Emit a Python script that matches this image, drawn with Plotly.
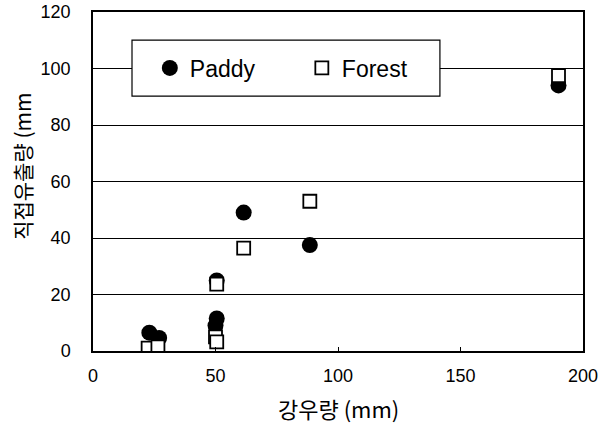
import plotly.graph_objects as go

paddy_x = [23, 27, 50.5, 50.5, 50, 61.5, 88.5, 190]
paddy_y = [6.5, 4.6, 25, 11.5, 9, 49, 37.5, 94]
forest_x = [22.5, 26.5, 50.5, 50, 50.5, 61.5, 88.5, 190]
forest_y = [1, 1.5, 23.7, 5, 3.2, 36.4, 53, 97.5]

x_ticks = [0, 50, 100, 150, 200]
y_ticks = [0, 20, 40, 60, 80, 100, 120]

fig = go.Figure()
fig.add_trace(go.Scatter(x=paddy_x, y=paddy_y, mode="markers", name="Paddy",
                         marker=dict(symbol="circle", size=16, color="black")))
fig.add_trace(go.Scatter(x=forest_x, y=forest_y, mode="markers", name="Forest",
                         marker=dict(symbol="square", size=13, color="white",
                                     line=dict(color="black", width=1.8))))

fig.update_layout(
    width=601, height=424,
    margin=dict(l=93, r=18, t=12, b=73),
    plot_bgcolor="white", paper_bgcolor="white",
    font=dict(family="Liberation Sans, Arial, sans-serif", color="black", size=18),
    xaxis=dict(range=[0, 200], tickvals=x_ticks, showgrid=False, zeroline=False,
               showline=True, linecolor="black", linewidth=1.5, mirror=True,
               ticks="inside", ticklen=4, tickcolor="black", automargin=False,
               tickfont=dict(size=18), ticklabelstandoff=8),
    yaxis=dict(range=[0, 120], tickvals=y_ticks, showgrid=True, gridcolor="black",
               gridwidth=1.2, zeroline=False, automargin=False,
               showline=True, linecolor="black", linewidth=1.5, mirror=True,
               ticks="", tickfont=dict(size=18), ticklabelstandoff=17),
    legend=dict(orientation="h", x=0.116, y=0.835, xanchor="left", yanchor="middle",
                borderwidth=0, bgcolor="rgba(0,0,0,0)",
                font=dict(size=23, family="Liberation Sans, Arial, sans-serif"),
                entrywidth=107, entrywidthmode="pixels"),
    showlegend=True,
)

fig.add_shape(type="rect", xref="paper", yref="paper",
              x0=0.0796, x1=0.708, y0=0.752, y1=0.917,
              line=dict(color="black", width=1.2), fillcolor="white", layer="above")

fig.add_annotation(text="강우량 (mm)", xref="paper", yref="paper", x=0.5, y=-0.168,
                   xanchor="center", yanchor="middle", showarrow=False,
                   font=dict(size=22, family="Noto Sans CJK KR"))
fig.add_annotation(text="직접유출량 (mm", xref="paper", yref="paper", x=-0.145, y=0.546,
                   xanchor="center", yanchor="middle", showarrow=False, textangle=-90,
                   font=dict(size=21, family="Noto Sans CJK KR"))

fig.write_html("out.html")
